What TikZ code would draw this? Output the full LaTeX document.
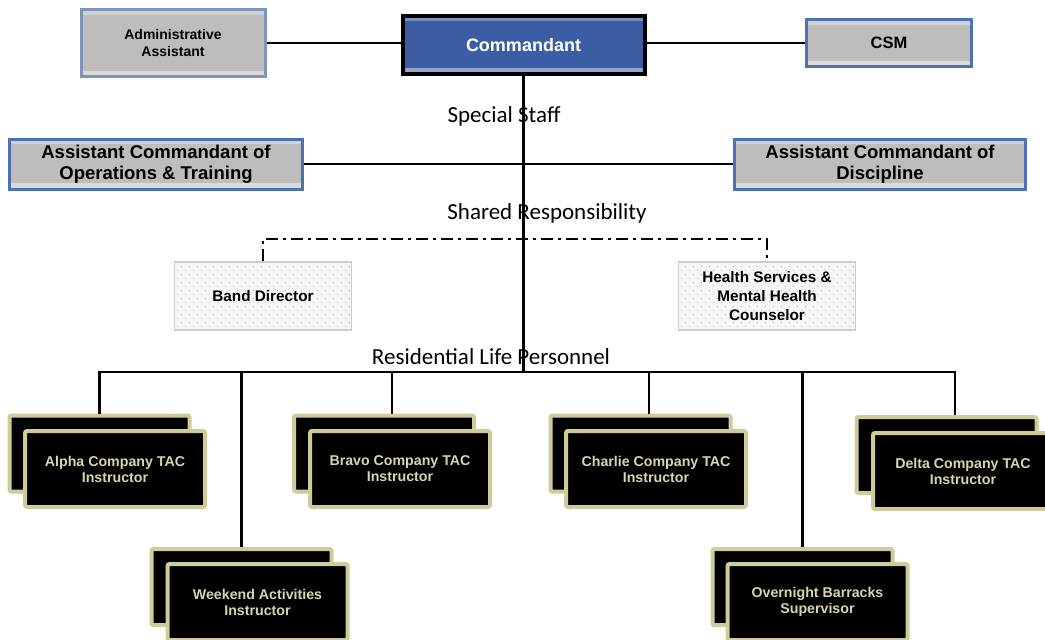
\documentclass[tikz,border=0pt]{standalone}
\usepackage{fontspec}
\setsansfont{Liberation Sans}
\newfontfamily\calfont{Carlito}
\usepackage{tikz}
\usetikzlibrary{patterns}
\definecolor{boxgray}{HTML}{BEBCBC}
\definecolor{boxblue}{HTML}{4A72B4}
\definecolor{admblue}{HTML}{7D93B9}
\definecolor{cmdblue}{HTML}{3A5DA4}
\definecolor{khaki}{HTML}{CFCB9B}
\definecolor{khakitext}{HTML}{D9D4AC}
\pgfdeclarepatternformonly{sparsedots}{\pgfpointorigin}{\pgfqpoint{8pt}{8pt}}{\pgfqpoint{8pt}{8pt}}{
    \pgfpathcircle{\pgfqpoint{2pt}{2pt}}{0.65pt}
    \pgfpathcircle{\pgfqpoint{6pt}{6pt}}{0.65pt}
    \pgfusepath{fill}}

\begin{document}
\begin{tikzpicture}[x=1pt, y=-1pt,
        bevel/.style={path picture={
            \fill[white, opacity=0.3] (path picture bounding box.north west) rectangle ([yshift=-5pt]path picture bounding box.north east);
            \fill[white, opacity=0.45] (path picture bounding box.south west) rectangle ([yshift=6pt]path picture bounding box.south east);}},
        staff/.style={rectangle, draw=boxblue, fill=boxgray, bevel, line width=3pt, align=center, font=\sffamily\bfseries\fontsize{14}{17}\selectfont},
        deputy/.style={staff, minimum height=50pt, font=\sffamily\bfseries\fontsize{18.5}{21}\selectfont},
        chief/.style={rectangle, draw=black, fill=cmdblue, bevel, line width=4pt, text=white, align=center, font=\sffamily\bfseries\fontsize{18}{20}\selectfont},
        shared/.style={rectangle, draw=gray!40, line width=1.2pt, preaction={fill=gray!7}, pattern=sparsedots, pattern color=gray!65, minimum width=177pt, minimum height=68pt, align=center, font=\sffamily\bfseries\fontsize{15.3}{19}\selectfont},
        card/.style={rectangle, draw=khaki, fill=black, line width=4pt, rounded corners=2pt, minimum width=180pt, minimum height=76pt, text=khakitext, align=center, font=\sffamily\bfseries\fontsize{14.2}{16}\selectfont},
        heading/.style={font=\calfont\fontsize{23}{24}\selectfont},
        link/.style={line width=2.5pt, black},
        dashlink/.style={line width=2pt, black, dash pattern=on 12pt off 5pt on 3pt off 5pt},
    ]
    \useasboundingbox (0,0) rectangle (1045,640);
    \node[chief, minimum width=242pt, minimum height=58pt] (cmd) at (523.5,45) {Commandant};
    \node[staff, draw=admblue, minimum width=184pt, minimum height=67pt] (adm) at (173,43) {Administrative\\Assistant};
    \node[staff, minimum width=165pt, minimum height=47pt, font=\sffamily\bfseries\fontsize{16.5}{19}\selectfont] (csm) at (889,43) {CSM};
    \node[deputy, minimum width=293pt] (aco) at (156,164) {Assistant Commandant of\\Operations \& Training};
    \node[deputy, minimum width=291pt] (acd) at (880,164) {Assistant Commandant of\\Discipline};
    \node[heading] (spec) at (504,116) {Special Staff};
    \node[heading] (shrd) at (547,213) {Shared Responsibility};
    \node[shared] (band) at (263,296) {Band Director};
    \node[shared] (hlth) at (767,296) {Health Services \&\\Mental Health\\Counselor};
    \node[heading] (res) at (491,357) {Residential Life Personnel};
    \coordinate (bus) at (523.5,372);

    \node[card] (alphaback) at (99.5,453.5) {};
    \node[card] (alpha) at (115,469) {Alpha Company TAC\\Instructor};
    \node[card] (bravoback) at (384,453.5) {};
    \node[card] (bravo) at (400,469) {Bravo Company TAC\\Instructor};
    \node[card] (charlieback) at (640.5,453.5) {};
    \node[card] (charlie) at (656,469) {Charlie Company TAC\\Instructor};
    \node[card] (deltaback) at (946.5,455) {};
    \node[card] (delta) at (963,471) {Delta Company TAC\\Instructor};
    \node[card] (wkndback) at (241.5,587) {};
    \node[card] (wknd) at (257.5,602) {Weekend Activities\\Instructor};
    \node[card] (nightback) at (802.5,587) {};
    \node[card] (night) at (817.5,602) {Overnight Barracks\\Supervisor};

    \draw[link] (adm.east) -- (adm.east -| cmd.west);
    \draw[link] (csm.west) -- (csm.west -| cmd.east);
    \draw[link] (aco.east) -- (acd.west);
    \draw[link] (cmd.south) -- (bus);
    \draw[dashlink] (band.north) -- ++(0,-22) -| (hlth.north);
    \draw[link] (alphaback.north) |- (bus) -| ([xshift=8.5pt]deltaback.north);
    \draw[link] (wkndback.north) -- (wkndback.north |- bus);
    \draw[link] ([xshift=8pt]bravoback.north) -- ([xshift=8pt]bravoback.north |- bus);
    \draw[link] ([xshift=8.5pt]charlieback.north) -- ([xshift=8.5pt]charlieback.north |- bus);
    \draw[link] (nightback.north) -- (nightback.north |- bus);
\end{tikzpicture}
\end{document}
